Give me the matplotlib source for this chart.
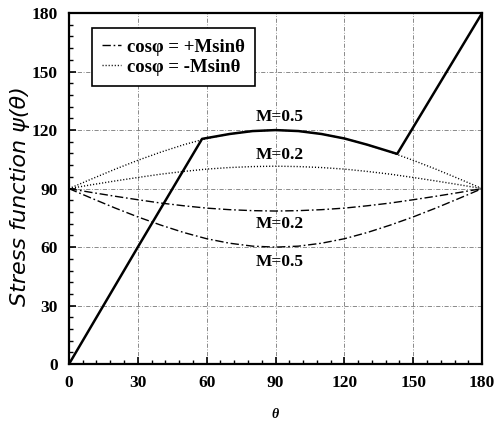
import matplotlib
matplotlib.use("Agg")
import matplotlib.pyplot as plt
from matplotlib.ticker import MultipleLocator

theta = [0, 10, 20, 30, 40, 50, 60, 70, 80, 90, 100, 110, 120, 130, 140, 150, 160, 170, 180]
minus_m05 = [90, 95, 99.9, 104.5, 108.7, 112.5, 115.7, 118, 119.5, 120, 119.5, 118, 115.7, 112.5, 108.7, 104.5, 99.9, 95, 90]
minus_m02 = [90, 92, 93.9, 95.7, 97.4, 98.8, 100, 100.8, 101.3, 101.5, 101.3, 100.8, 100, 98.8, 97.4, 95.7, 93.9, 92, 90]
plus_m02 = [90, 88, 86.1, 84.3, 82.6, 81.2, 80, 79.2, 78.7, 78.5, 78.7, 79.2, 80, 81.2, 82.6, 84.3, 86.1, 88, 90]
plus_m05 = [90, 85, 80.1, 75.5, 71.3, 67.5, 64.3, 62, 60.5, 60, 60.5, 62, 64.3, 67.5, 71.3, 75.5, 80.1, 85, 90]

theta_s = [0, 30, 58, 70, 80, 90, 100, 110, 120, 130, 143, 180]
psi_s = [0, 60, 115.5, 118, 119.5, 120, 119.5, 118, 115.7, 112.5, 107.8, 180]

xticks = [0, 30, 60, 90, 120, 150, 180]
yticks = [0, 30, 60, 90, 120, 150, 180]

serif = "Liberation Serif"

fig = plt.figure(figsize=(4.96, 4.21), dpi=100)
ax = fig.add_axes([0.139, 0.135, 0.833, 0.834])

dashdot = (0, (6, 2, 1.2, 2))
dotted = (0, (0.8, 1.4))
ax.plot(theta, plus_m02, color="black", lw=1.0, ls=dashdot, label="cosφ = +Msinθ")
ax.plot(theta, plus_m05, color="black", lw=1.0, ls=dashdot)
ax.plot(theta, minus_m02, color="black", lw=1.0, ls=dotted, label="cosφ = -Msinθ")
ax.plot(theta, minus_m05, color="black", lw=1.0, ls=dotted)
ax.plot(theta_s, psi_s, color="black", lw=1.8)

ax.set_xlim(0, 180)
ax.set_ylim(0, 180)
ax.set_xticks(xticks)
ax.set_yticks(yticks)
ax.xaxis.set_minor_locator(MultipleLocator(6))
ax.yaxis.set_minor_locator(MultipleLocator(6))
ax.tick_params(which="major", direction="in", length=5, width=1.2, labelsize=12.5, pad=8)
ax.tick_params(which="minor", direction="in", length=3, width=1.0)
for lab in ax.get_xticklabels() + ax.get_yticklabels():
    lab.set_fontfamily(serif)
    lab.set_fontweight("bold")
for sp in ax.spines.values():
    sp.set_linewidth(1.6)

ax.grid(True, which="major", color="#777777", lw=0.6, ls=(0, (5, 2, 1, 2)))

ax.set_ylabel("Stress function ψ(θ)", fontsize=16, style="italic", family="DejaVu Sans")
ax.yaxis.set_label_coords(-0.095, 0.48)
ax.set_xlabel("θ", fontsize=10, style="italic", fontweight="bold", family=serif, labelpad=12)

lbl = dict(fontsize=12.5, fontweight="bold", family=serif, ha="center", va="center")
ax.text(92, 126.5, "M=0.5", **lbl)
ax.text(92, 107, "M=0.2", **lbl)
ax.text(92, 72, "M=0.2", **lbl)
ax.text(92, 52.5, "M=0.5", **lbl)

leg = ax.legend(loc="upper left", bbox_to_anchor=(0.056, 0.957), frameon=True, fancybox=False,
                edgecolor="black", framealpha=1, handlelength=1.0, handletextpad=0.3,
                borderpad=0.55, labelspacing=0.15, borderaxespad=0,
                prop={"family": serif, "weight": "bold", "size": 13.5})
leg.get_frame().set_linewidth(1.2)

fig.savefig("out.png", dpi=100)
